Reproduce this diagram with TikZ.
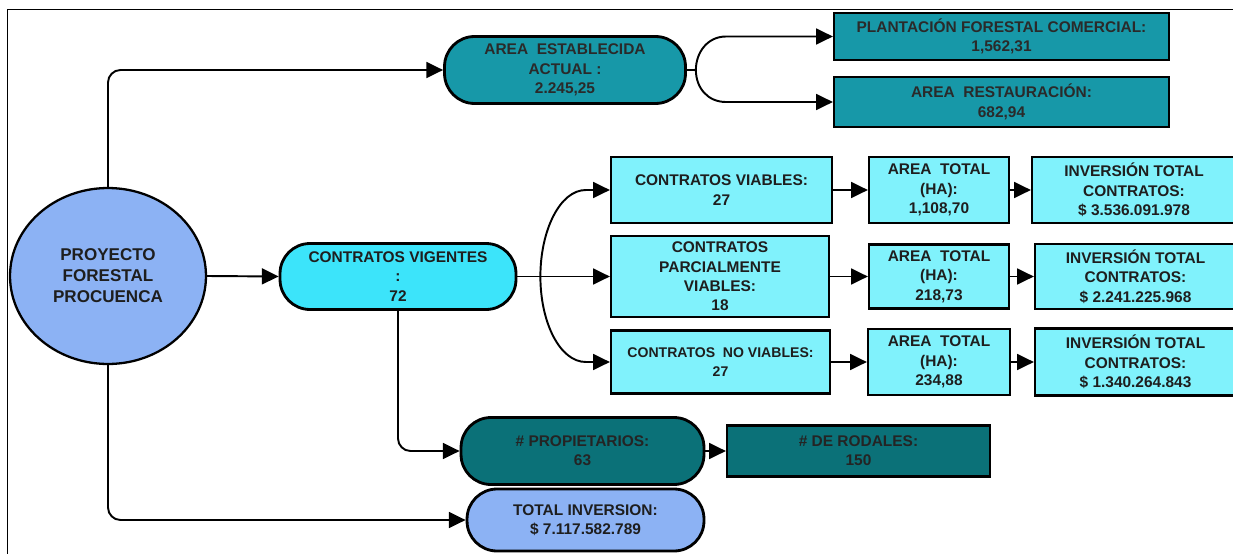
\documentclass[tikz,border=0pt]{standalone}
\usepackage{fontspec}
\setmainfont{Liberation Sans}
\usetikzlibrary{arrows.meta,shapes.geometric,calc}

\definecolor{proyblue}{HTML}{8CB2F4}
\definecolor{vigcyan}{HTML}{3CE4FA}
\definecolor{boxcyan}{HTML}{80F2FC}
\definecolor{areateal}{HTML}{1798A8}
\definecolor{darkteal}{HTML}{0B7178}
\definecolor{inktext}{HTML}{1E1E1E}
\definecolor{tealink}{HTML}{2A2A2A}
\definecolor{darkink}{HTML}{242424}

\begin{document}
\begin{tikzpicture}[x=0.02cm, y=-0.02cm, line width=1.1pt,
    main box/.style={draw, line width=1.3pt, inner sep=0pt, align=center, text=inktext,
                     font=\bfseries\fontsize{8.8}{11}\selectfont},
    cyan box/.style={main box, fill=boxcyan},
    teal box/.style={main box, fill=areateal, text=tealink},
    dark box/.style={main box, fill=darkteal, text=darkink},
    pill node/.style={line width=1.6pt, rounded corners=0.6cm},
    link/.style={-{Triangle[length=9.5pt,width=9pt]}}]

  \useasboundingbox (0,0) rectangle (1233,554);
  \draw[line width=0.9pt] (7.5,9.5) rectangle (1250,570);

  % main project
  \node[main box, ellipse, fill=proyblue, minimum width=3.92cm, minimum height=3.52cm,
        font=\bfseries\fontsize{9.7}{12}\selectfont] (proy) at (108,276)
        {PROYECTO\\FORESTAL\\PROCUENCA};

  % established area
  \node[teal box, pill node, minimum width=4.82cm, minimum height=1.34cm] (aest) at (565,70)
        {AREA\ \ ESTABLECIDA\\ACTUAL :\\2.245,25};
  \node[teal box, minimum width=6.70cm, minimum height=0.94cm] (plant) at (1001.5,36.5)
        {PLANTACIÓN FORESTAL COMERCIAL:\\1,562,31};
  \node[teal box, minimum width=6.70cm, minimum height=1.00cm] (rest) at (1001.5,102)
        {AREA\ \ RESTAURACIÓN:\\682,94};

  % contracts
  \node[main box, pill node, fill=vigcyan, minimum width=4.72cm, minimum height=1.32cm] (vig) at (398,276.5)
        {CONTRATOS VIGENTES\\:\\72};

  \node[cyan box, minimum width=4.42cm, minimum height=1.32cm] (via) at (721.5,190)
        {CONTRATOS VIABLES:\\27};
  \node[cyan box, minimum width=2.80cm, minimum height=1.32cm] (at1) at (939,190)
        {AREA\ \ TOTAL\\(HA):\\1,108,70};
  \node[cyan box, minimum width=4.08cm, minimum height=1.32cm] (inv1) at (1134,190)
        {INVERSIÓN TOTAL\\CONTRATOS:\\\$ 3.536.091.978};

  \node[cyan box, minimum width=4.36cm, minimum height=1.62cm] (par) at (720,276.5)
        {CONTRATOS\\PARCIALMENTE\\VIABLES:\\18};
  \node[cyan box, minimum width=2.80cm, minimum height=1.28cm] (at2) at (939,276.5)
        {AREA\ \ TOTAL\\(HA):\\218,73};
  \node[cyan box, minimum width=4.02cm, minimum height=1.30cm] (inv2) at (1135.5,276.5)
        {INVERSIÓN TOTAL\\CONTRATOS:\\\$ 2.241.225.968};

  \node[cyan box, minimum width=4.38cm, minimum height=1.26cm,
        font=\bfseries\fontsize{8}{10.5}\selectfont] (nov) at (720.5,362)
        {CONTRATOS\ \ NO VIABLES:\\27};
  \node[cyan box, minimum width=2.84cm, minimum height=1.32cm] (at3) at (939,362)
        {AREA\ \ TOTAL\\(HA):\\234,88};
  \node[cyan box, minimum width=4.02cm, minimum height=1.34cm] (inv3) at (1135.5,362)
        {INVERSIÓN TOTAL\\CONTRATOS:\\\$ 1.340.264.843};

  % owners and investment
  \node[dark box, pill node, minimum width=4.86cm, minimum height=1.34cm] (prop) at (582.5,451)
        {\# PROPIETARIOS:\\63};
  \node[dark box, minimum width=5.26cm, minimum height=1.02cm] (rod) at (858.5,451)
        {\# DE RODALES:\\150};
  \node[main box, pill node, fill=proyblue, minimum width=4.74cm, minimum height=1.24cm] (tinv) at (585.5,520)
        {TOTAL INVERSION:\\\$ 7.117.582.789};

  % junctions of the brackets
  \coordinate (aej) at ($(aest.east)+(9,0)$);
  \coordinate (plj) at ($(plant.west)+(-107,0)$);
  \coordinate (rsj) at ($(rest.west)+(-107,0)$);
  \coordinate (vigj) at ($(vig.east)+(23,0)$);
  \coordinate (viaj) at ($(via.west)+(-24,0)$);
  \coordinate (novj) at ($(nov.west)+(-24,0)$);

  \draw[link, rounded corners=0.25cm] (proy.north) |- (aest.west);
  \draw[link] (proy.east) -- (vig.west);
  \draw[link, rounded corners=0.25cm] (proy.south) |- (tinv.west);

  \draw (aest.east) -- (aej);
  \draw[link] (aej) .. controls +(0,-18) and +(-18,0) .. (plj) -- (plant.west);
  \draw[link] (aej) .. controls +(0,18) and +(-18,0) .. (rsj) -- (rest.west);

  \draw[link] (vig.east) -- (par.west);
  \draw[link] (vigj) .. controls +(0,-46) and +(-26,0) .. (viaj) -- (via.west);
  \draw[link] (vigj) .. controls +(0,46) and +(-26,0) .. (novj) -- (nov.west);
  \draw[link, rounded corners=0.25cm] (vig.south) |- (prop.west);

  \draw[link] (via.east) -- (at1.west);
  \draw[link] (at1.east) -- (inv1.west);
  \draw[link] (par.east) -- (at2.west);
  \draw[link] (at2.east) -- (inv2.west);
  \draw[link] (nov.east) -- (at3.west);
  \draw[link] (at3.east) -- (inv3.west);
  \draw[link] (prop.east) -- (rod.west);

\end{tikzpicture}
\end{document}
